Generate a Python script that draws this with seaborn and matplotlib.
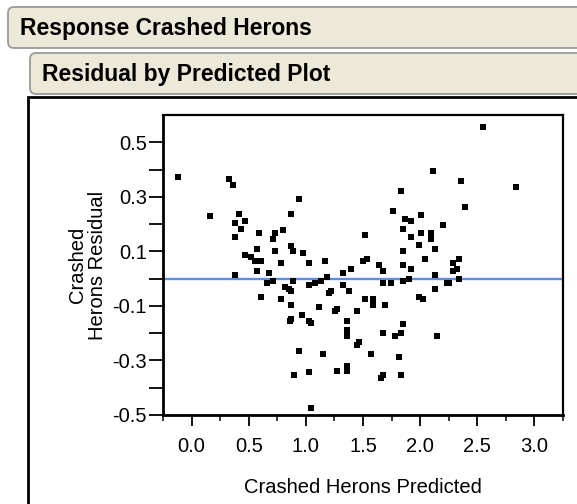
import matplotlib
matplotlib.use("Agg")
import matplotlib.pyplot as plt
import seaborn as sns
from matplotlib.patches import FancyBboxPatch, Rectangle
from matplotlib.transforms import IdentityTransform

# ---------------- data ----------------
predicted = [
    -0.122, 0.331, 0.366, 0.942, 0.157, 0.418, 0.872, 0.384, 0.471, 0.436,
    0.593, 0.732, 0.802, 0.715, 0.384, 1.517, 0.575, 0.872, 0.889, 0.732,
    0.976, 0.471, 0.523, 0.558, 0.610, 0.785, 1.029, 1.168, 1.500, 1.534,
    0.575, 0.680, 0.384, 1.325, 1.395, 1.186, 0.663, 0.715, 0.889, 1.029,
    1.081, 1.133, 1.325, 0.820, 0.854, 0.872, 1.221, 1.203, 1.377, 0.610,
    0.785, 1.517,
    0.874, 1.119, 0.962, 1.258, 1.276, 1.450, 0.857, 0.874, 1.031, 1.049,
    1.363, 1.363, 1.363, 1.450, 1.467, 0.944, 1.153, 1.276, 1.363, 1.363,
    0.892, 1.031, 1.049,
    1.587, 1.587, 1.691, 1.988, 2.023, 1.848, 1.674, 1.831, 1.779, 2.145,
    1.569, 1.813, 1.674, 1.656, 1.831,
    2.546, 2.110, 2.354, 2.842, 1.831, 2.389, 1.761, 2.005, 1.866, 1.918,
    2.197, 1.848, 2.005, 2.092, 2.092, 1.918, 1.988, 2.127, 1.848, 2.040,
    1.639, 1.674, 1.848, 1.918, 2.284, 2.337, 2.284, 2.319, 2.127, 1.674,
    1.744, 1.848, 1.901, 2.232, 2.249, 2.337, 2.127,
]
residual = [
    0.374, 0.367, 0.344, 0.293, 0.228, 0.236, 0.236, 0.205, 0.212, 0.183,
    0.168, 0.168, 0.177, 0.147, 0.154, 0.161, 0.110, 0.118, 0.103, 0.103,
    0.095, 0.088, 0.081, 0.066, 0.066, 0.059, 0.059, 0.066, 0.066, 0.073,
    0.029, 0.022, 0.015, 0.022, 0.037, 0.007, -0.015, -0.007, -0.007, -0.022,
    -0.015, -0.007, -0.022, -0.029, -0.037, -0.044, -0.044, -0.051, -0.044, -0.066,
    -0.073, -0.073,
    -0.095, -0.103, -0.132, -0.117, -0.110, -0.117, -0.154, -0.147, -0.154, -0.161,
    -0.154, -0.190, -0.212, -0.242, -0.234, -0.264, -0.278, -0.337, -0.322, -0.337,
    -0.352, -0.344, -0.476,
    -0.073, -0.095, -0.095, -0.066, -0.073, -0.168, -0.198, -0.198, -0.212, -0.212,
    -0.278, -0.286, -0.352, -0.366, -0.352,
    0.557, 0.396, 0.359, 0.337, 0.322, 0.264, 0.249, 0.234, 0.220, 0.212,
    0.198, 0.183, 0.168, 0.168, 0.147, 0.154, 0.125, 0.110, 0.103, 0.073,
    0.051, 0.029, 0.051, 0.037, 0.059, 0.073, 0.029, 0.037, 0.015, -0.015,
    -0.015, -0.007, 0.000, -0.015, -0.015, 0.000, -0.037,
]

x_ticks = [0.0, 0.5, 1.0, 1.5, 2.0, 2.5, 3.0]
x_tick_labels = ["0.0", "0.5", "1.0", "1.5", "2.0", "2.5", "3.0"]
x_minor_ticks = [-0.25, 0.25, 0.75, 1.25, 1.75, 2.25, 2.75, 3.25]
y_ticks = [-0.5, -0.3, -0.1, 0.1, 0.3, 0.5]
y_tick_labels = ["-0.5", "-0.3", "-0.1", "0.1", "0.3", "0.5"]
y_minor_ticks = [-0.4, -0.2, 0.0, 0.2, 0.4]

title_text = "Response Crashed Herons"
subtitle_text = "Residual by Predicted Plot"
x_label = "Crashed Herons Predicted"
y_label = "Crashed\nHerons Residual"

# ---------------- figure ----------------
sns.set_style("ticks")
plt.rcParams["font.family"] = ["Liberation Sans", "DejaVu Sans"]

W, H = 577, 504
fig = plt.figure(figsize=(W / 100, H / 100), dpi=100, facecolor="white")
ident = IdentityTransform()


def add_box(x0, y0, x1, y1):
    # coordinates in image pixels with top-left origin
    patch = FancyBboxPatch((x0, H - y1), x1 - x0, y1 - y0,
                           boxstyle="round,pad=0,rounding_size=6",
                           facecolor="#ECE9D8", edgecolor="#9A9A9A",
                           linewidth=1.3, transform=ident, zorder=1)
    fig.add_artist(patch)


add_box(8, 7, 640, 48)
add_box(30, 53, 640, 94)
fig.text(20 / W, 1 - 28 / H, title_text, fontsize=16.5, fontweight="bold",
         ha="left", va="center", color="black")
fig.text(42 / W, 1 - 74 / H, subtitle_text, fontsize=16.5, fontweight="bold",
         ha="left", va="center", color="black")

frame = Rectangle((28, -20), 700, H - 97 + 20, facecolor="none",
                  edgecolor="black", linewidth=2, transform=ident, zorder=1)
fig.add_artist(frame)

ax = fig.add_axes([163 / W, 1 - 415 / H, 400 / W, 300 / H])
ax.set_facecolor("white")
ax.axhline(0, color="#5B8FE6", linewidth=1.7, zorder=2)
sns.scatterplot(x=predicted, y=residual, marker="s", color="black", s=19,
                linewidth=0, ax=ax, legend=False, zorder=3)

ax.set_xlim(-0.25, 3.25)
ax.set_ylim(-0.5, 0.6)
ax.set_xticks(x_ticks)
ax.set_xticklabels(x_tick_labels)
ax.set_xticks(x_minor_ticks, minor=True)
ax.set_yticks(y_ticks)
ax.set_yticklabels(y_tick_labels)
ax.set_yticks(y_minor_ticks, minor=True)

ax.tick_params(axis="x", which="major", direction="out", length=8, width=1.3,
               pad=8, labelsize=14.5, colors="black", bottom=True)
ax.tick_params(axis="x", which="minor", direction="out", length=4, width=1.3,
               bottom=True)
ax.tick_params(axis="y", which="both", direction="out", length=10, width=1.3,
               pad=1.5, labelsize=14.5, colors="black", left=True)

for name, sp in ax.spines.items():
    sp.set_visible(True)
    sp.set_color("black")
    sp.set_linewidth(2.0 if name in ("left", "bottom") else 1.6)

ax.set_xlabel(x_label, fontsize=14.5, color="black", labelpad=16)
ax.set_ylabel(y_label, fontsize=14.5, color="black", linespacing=1.05)
ax.yaxis.set_label_coords(-0.14, 0.5)

fig.savefig("out.png", dpi=100, facecolor="white")
